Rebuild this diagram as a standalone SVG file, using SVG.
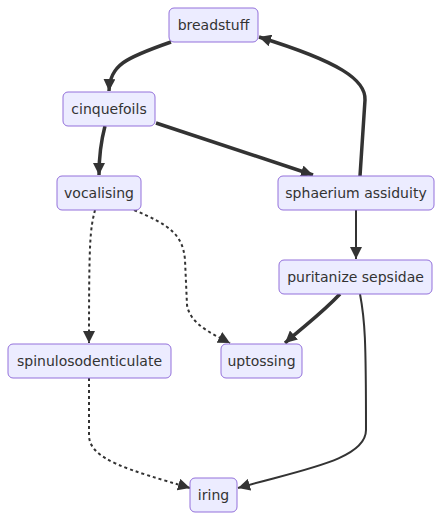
<svg xmlns="http://www.w3.org/2000/svg" width="442" height="520" viewBox="0 0 442 520">
<defs>
<style>
.node rect{fill:#ECECFF;stroke:#9370DB;stroke-width:1}
.node text{font-family:"DejaVu Sans",Verdana,sans-serif;font-size:14px;fill:#333;text-anchor:middle;dominant-baseline:central}
.e{fill:none;stroke:#333;stroke-width:2}
.thick{stroke-width:3.5}
.dot{stroke-dasharray:3 3}
</style>
<marker id="ah" markerUnits="userSpaceOnUse" viewBox="0 0 10 10" refX="10" refY="5" markerWidth="12" markerHeight="12" orient="auto">
<path d="M0,0 L10,5 L0,10 z" fill="#333"/>
</marker>
</defs>
<rect width="442" height="520" fill="#fff"/>
<g id="edges">
<path class="e thick" d="M171,42 C125,58 110,65 109,91" marker-end="url(#ah)"/>
<path class="e thick" d="M105,126 C100,145 99,160 99,175" marker-end="url(#ah)"/>
<path class="e thick" d="M156,123 L313,175" marker-end="url(#ah)"/>
<path class="e thick" d="M360,176 L365,100 C366,80 340,62 259,37" marker-end="url(#ah)"/>
<path class="e" d="M356,210 L356,259" marker-end="url(#ah)"/>
<path class="e dot" d="M95,210 C90,230 89,240 89,343" marker-end="url(#ah)"/>
<path class="e dot" d="M134,210 C170,225 183,235 185,260 L187,305 C190,325 215,335 230,343" marker-end="url(#ah)"/>
<path class="e thick" d="M340,294 C320,315 305,325 285,343" marker-end="url(#ah)"/>
<path class="e" d="M360,294 C365,320 366,340 366,430 C366,460 300,470 238,488" marker-end="url(#ah)"/>
<path class="e dot" d="M89,378 L89,435 C89,460 130,470 190,488" marker-end="url(#ah)"/>
</g>
<g id="breadstuff" class="node"><rect x="169" y="8" width="89" height="34" rx="5"/><text x="213.5" y="25">breadstuff</text></g>
<g id="cinquefoils" class="node"><rect x="63" y="92" width="92" height="34" rx="5"/><text x="109" y="109">cinquefoils</text></g>
<g id="vocalising" class="node"><rect x="57" y="176" width="84" height="34" rx="5"/><text x="99" y="193">vocalising</text></g>
<g id="sphaerium" class="node"><rect x="278" y="176" width="156" height="34" rx="5"/><text x="356" y="193">sphaerium assiduity</text></g>
<g id="puritanize" class="node"><rect x="279" y="260" width="153" height="34" rx="5"/><text x="355.5" y="277">puritanize sepsidae</text></g>
<g id="spinulosodenticulate" class="node"><rect x="8" y="344" width="163" height="34" rx="5"/><text x="89.5" y="361">spinulosodenticulate</text></g>
<g id="uptossing" class="node"><rect x="221" y="344" width="81" height="34" rx="5"/><text x="261.5" y="361">uptossing</text></g>
<g id="iring" class="node"><rect x="190" y="478" width="47" height="34" rx="5"/><text x="213.5" y="495">iring</text></g>
</svg>
